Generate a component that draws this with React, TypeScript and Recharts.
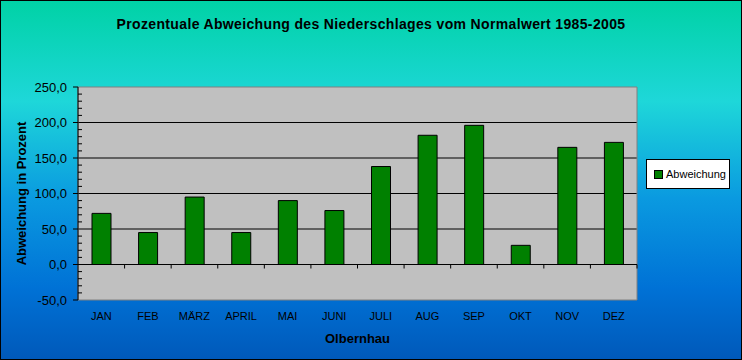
import {
  BarChart,
  Bar,
  XAxis,
  YAxis,
  CartesianGrid,
  ReferenceLine,
  ReferenceArea,
  Label,
} from "recharts";

document.body.style.margin = "0";

const MONTHS = ["JAN", "FEB", "MÄRZ", "APRIL", "MAI", "JUNI", "JULI", "AUG", "SEP", "OKT", "NOV", "DEZ"];
const DEVIATION = [72, 45, 95, 45, 90, 76, 138, 182, 196, 27, 165, 172];
// every 10 a tick, labels only on the 50s
const Y_TICKS = [
  -50, -40, -30, -20, -10, 0, 10, 20, 30, 40, 50, 60, 70, 80, 90, 100, 110, 120, 130, 140, 150,
  160, 170, 180, 190, 200, 210, 220, 230, 240, 250,
];
const GRID_VALUES = [50, 100, 150, 200];

const FONT = "'Liberation Sans', Arial, sans-serif";

const data = MONTHS.map((m, i) => ({ month: m, value: DEVIATION[i] }));

function YTick(props: any) {
  const { x, y, payload } = props;
  const v = payload.value as number;
  const major = v % 50 === 0;
  if (!major) {
    return <line x1={x} x2={x + 4} y1={y} y2={y} stroke="#000" />;
  }
  return (
    <g>
      <line x1={x - 5} x2={x} y1={y} y2={y} stroke="#000" />
      <text x={x - 11} y={y} dy="0.36em" textAnchor="end" fontSize={13} fontFamily={FONT} fill="#000">
        {v.toFixed(1).replace(".", ",")}
      </text>
    </g>
  );
}

function ZeroLine(props: any) {
  const { x1, x2, y1 } = props;
  const step = (x2 - x1) / MONTHS.length;
  return (
    <g>
      <line x1={x1} x2={x2} y1={y1} y2={y1} stroke="#000" strokeWidth={1} />
      {MONTHS.map((_, i) => (
        <line key={i} x1={x1 + step * (i + 1)} x2={x1 + step * (i + 1)} y1={y1} y2={y1 + 4} stroke="#000" />
      ))}
    </g>
  );
}

export default function App() {
  return (
    <div
      style={{
        position: "relative",
        width: 742,
        height: 360,
        boxSizing: "border-box",
        border: "1px solid #000",
        background: "linear-gradient(to bottom, #00d2a6 0%, #1ed7d9 28%, #0a9ae0 55%, #0072d6 80%, #0059ba 100%)",
        fontFamily: FONT,
        overflow: "hidden",
      }}
    >
      <div
        style={{
          position: "absolute",
          left: -1,
          top: 15,
          width: 742,
          textAlign: "center",
          fontSize: 14,
          letterSpacing: 0.35,
          fontWeight: "bold",
          color: "#000",
        }}
      >
        Prozentuale Abweichung des Niederschlages vom Normalwert 1985-2005
      </div>

      <div style={{ position: "absolute", left: -1, top: -1 }}>
        <BarChart width={742} height={360} data={data} margin={{ top: 87, right: 105, bottom: 0, left: 0 }}>
          <CartesianGrid
            vertical={false}
            horizontalValues={GRID_VALUES}
            stroke="#000"
            fill="#c0c0c0"
            fillOpacity={1}
          />
          <ReferenceArea y1={-50} y2={250} fill="none" stroke="#808080" strokeWidth={1} />
          <XAxis
            dataKey="month"
            axisLine={false}
            tickLine={false}
            tickSize={0}
            tickMargin={12}
            height={60}
            interval={0}
            tick={{ fontSize: 11, fill: "#000", fontFamily: FONT }}
          >
            <Label
              value="Olbernhau"
              position="insideBottom"
              offset={17}
              style={{ fontSize: 13, fontWeight: "bold", fill: "#000", fontFamily: FONT }}
            />
          </XAxis>
          <YAxis
            width={78}
            domain={[-50, 250]}
            ticks={Y_TICKS}
            interval={0}
            tickLine={false}
            tickSize={0}
            tickMargin={0}
            axisLine={{ stroke: "#000" }}
            tick={<YTick />}
          >
            <Label
              content={(p: any) => {
                const vb = p.viewBox;
                const cy = vb.y + vb.height / 2;
                return (
                  <text
                    x={21}
                    y={cy}
                    transform={`rotate(-90 21 ${cy})`}
                    textAnchor="middle"
                    dominantBaseline="central"
                    fontSize={13}
                    fontWeight="bold"
                    fontFamily={FONT}
                    fill="#000"
                  >
                    Abweichung in Prozent
                  </text>
                );
              }}
            />
          </YAxis>
          <Bar dataKey="value" fill="#008000" stroke="#000" strokeWidth={1} barSize={19} isAnimationActive={false} />
          <ReferenceLine y={0} stroke="#000" shape={<ZeroLine />} />
        </BarChart>
      </div>

      <div
        style={{
          position: "absolute",
          left: 645,
          top: 158,
          width: 84,
          height: 30,
          boxSizing: "border-box",
          background: "#fff",
          border: "1px solid #000",
          display: "flex",
          alignItems: "center",
          paddingLeft: 7,
          fontSize: 11,
          color: "#000",
        }}
      >
        <span
          style={{
            display: "inline-block",
            width: 7,
            height: 7,
            background: "#008000",
            border: "1px solid #000",
            marginRight: 3,
          }}
        />
        Abweichung
      </div>
    </div>
  );
}
